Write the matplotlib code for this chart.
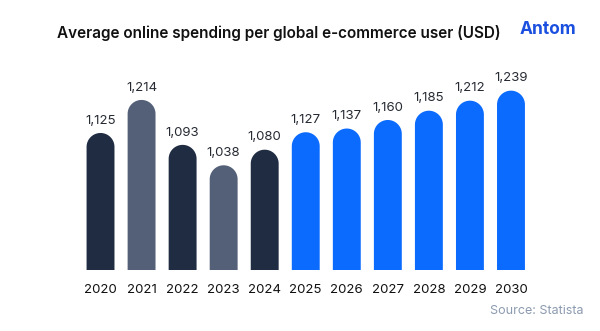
import numpy as np
import matplotlib
matplotlib.use("Agg")
import matplotlib.pyplot as plt
from matplotlib.path import Path
from matplotlib.patches import PathPatch

years = ["2020", "2021", "2022", "2023", "2024", "2025", "2026", "2027", "2028", "2029", "2030"]
values = [1125, 1214, 1093, 1038, 1080, 1127, 1137, 1160, 1185, 1212, 1239]
labels = ["1,125", "1,214", "1,093", "1,038", "1,080", "1,127", "1,137", "1,160", "1,185", "1,212", "1,239"]
colors = ["#202c42", "#546078", "#202c42", "#546078", "#202c42",
          "#0b6bff", "#0b6bff", "#0b6bff", "#0b6bff", "#0b6bff", "#0b6bff"]

plt.rcParams['font.family'] = ['Inter', 'DejaVu Sans']

W, H = 600, 331
fig = plt.figure(figsize=(W / 100, H / 100), dpi=100)
fig.patch.set_facecolor("white")

ax_left, ax_right = 80, 531.5
ax_bottom, ax_top = 270, 68
ax = fig.add_axes([ax_left / W, (H - ax_bottom) / H, (ax_right - ax_left) / W, (ax_bottom - ax_top) / H])
ymin = 756
ax.set_xlim(-0.5, len(years) - 0.5)
ax.set_ylim(ymin, 1300)
ax.axis("off")

# scale conversion
p0 = ax.transData.transform((0, ymin))
p1 = ax.transData.transform((1, ymin + 100))
px_per_x = p1[0] - p0[0]
px_per_y = (p1[1] - p0[1]) / 100.0

bw = 0.68
rx = bw / 2
ry = rx * px_per_x / px_per_y
t = np.linspace(np.pi, 0, 40)
for i, (v, c) in enumerate(zip(values, colors)):
    xl, xr = i - rx, i + rx
    verts = [(xl, ymin), (xl, v - ry)]
    verts += [(i + rx * np.cos(a), v - ry + ry * np.sin(a)) for a in t]
    verts += [(xr, ymin), (xl, ymin)]
    codes = [Path.MOVETO] + [Path.LINETO] * (len(verts) - 2) + [Path.CLOSEPOLY]
    ax.add_patch(PathPatch(Path(verts, codes), facecolor=c, edgecolor="none"))
    ax.annotate(labels[i], (i, v), xytext=(0, 4.5), textcoords="offset points",
                ha="center", va="bottom", fontsize=9.5, color="#262a33")
    ax.annotate(years[i], (i, ymin), xytext=(0, -10), textcoords="offset points",
                ha="center", va="top", fontsize=9.5, color="#111111")

fig.text(57 / W, 1 - 33 / H, "Average online spending per global e-commerce user (USD)",
         ha="left", va="center", fontsize=11, fontweight="semibold", color="#111111")
fig.text(520 / W, 1 - 29 / H, "Antom", ha="left", va="center", fontsize=12.5,
         fontweight="bold", color="#1a4fe0")
fig.text(583 / W, 1 - 311 / H, "Source: Statista", ha="right", va="center",
         fontsize=9, color="#8c9bb0")

fig.savefig("out.png", dpi=100, facecolor="white")
